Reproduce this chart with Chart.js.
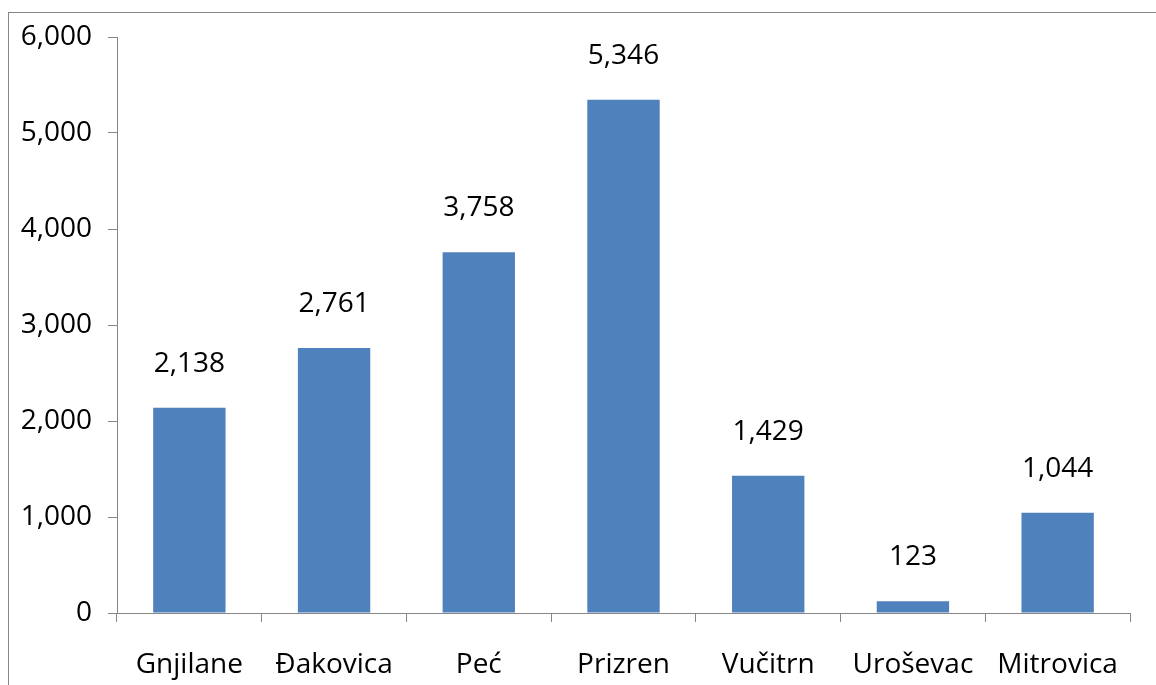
<!DOCTYPE html>
<html lang="sr">
<head>
    <meta charset="UTF-8">
    <title>Gradovi</title>
    <script src="https://cdn.jsdelivr.net/npm/chart.js"></script>
    <style>
        body { margin: 0; background: #fff; }
        .wrap { position: relative; width: 1156px; height: 685px; }
        .frame {
            position: absolute; left: 8px; top: 12px; right: -2px; bottom: -2px;
            border-top: 1px solid #868686; border-left: 1px solid #868686;
            pointer-events: none;
        }
    </style>
</head>
<body>
    <div class="wrap">
        <canvas id="chart" width="1156" height="685"></canvas>
        <div class="frame"></div>
    </div>

    <script>
        const cities = ['Gnjilane', 'Đakovica', 'Peć', 'Prizren', 'Vučitrn', 'Uroševac', 'Mitrovica'];
        const counts = [2138, 2761, 3758, 5346, 1429, 123, 1044];
        const yTicks = [0, 1000, 2000, 3000, 4000, 5000, 6000];

        const fmt = (v) => v.toLocaleString('en-US');
        const font = { family: "'Open Sans', sans-serif", size: 28 };
        const axisGrey = '#868686';

        // vrijednosti iznad stubova
        const valueLabels = {
            id: 'valueLabels',
            afterDatasetsDraw(chart) {
                const ctx = chart.ctx;
                const meta = chart.getDatasetMeta(0);
                ctx.save();
                ctx.font = `${font.size}px ${font.family}`;
                ctx.fillStyle = '#000';
                ctx.textAlign = 'center';
                ctx.textBaseline = 'middle';
                meta.data.forEach((bar, i) => {
                    ctx.fillText(fmt(counts[i]), bar.x, bar.y - 44);
                });
                ctx.restore();
            }
        };

        new Chart(document.getElementById('chart'), {
            type: 'bar',
            data: {
                labels: cities,
                datasets: [{
                    data: counts,
                    backgroundColor: '#4F81BD',
                    borderWidth: 0,
                    barPercentage: 0.5,
                    categoryPercentage: 1
                }]
            },
            options: {
                responsive: false,
                animation: false,
                layout: { padding: { top: 37, right: 26, left: 0, bottom: 0 } },
                plugins: {
                    legend: { display: false },
                    tooltip: { enabled: false }
                },
                scales: {
                    x: {
                        afterFit: (s) => { s.height = 72; },
                        grid: {
                            offset: true,
                            drawOnChartArea: false,
                            tickLength: 9,
                            color: axisGrey
                        },
                        border: { color: axisGrey, width: 1 },
                        ticks: { color: '#000', font: font, padding: 26, maxRotation: 0 }
                    },
                    y: {
                        min: 0,
                        max: 6000,
                        afterFit: (s) => { s.width = 117; },
                        afterBuildTicks: (s) => { s.ticks = yTicks.map(v => ({ value: v })); },
                        grid: {
                            drawOnChartArea: false,
                            tickLength: 9,
                            color: axisGrey
                        },
                        border: { color: axisGrey, width: 1 },
                        ticks: { color: '#000', font: font, padding: 16, callback: (v) => fmt(v) }
                    }
                }
            },
            plugins: [valueLabels]
        });
    </script>
</body>
</html>
